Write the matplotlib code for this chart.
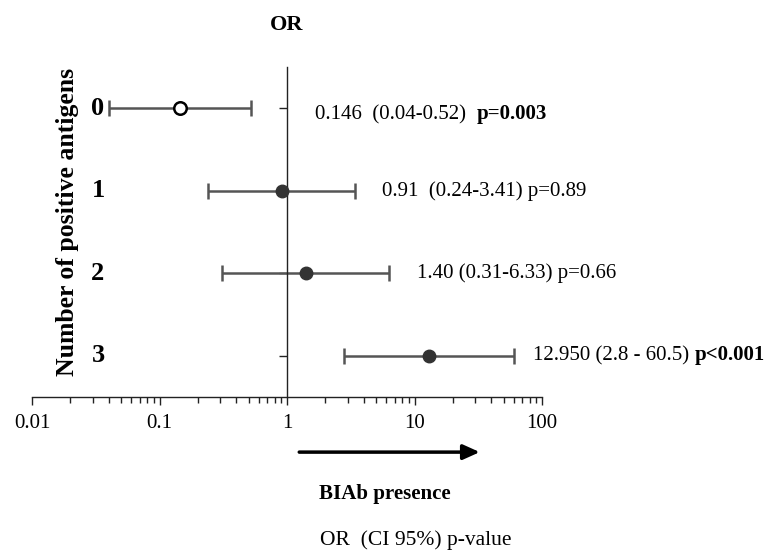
import matplotlib
matplotlib.use("Agg")
import matplotlib.pyplot as plt
from matplotlib.ticker import LogLocator, FixedLocator, NullFormatter

plt.rcParams["font.family"] = ["Liberation Serif", "DejaVu Serif"]

# data
rows = ["0", "1", "2", "3"]
odds = [0.146, 0.91, 1.40, 12.95]
ci_low = [0.04, 0.24, 0.31, 2.8]
ci_high = [0.52, 3.41, 6.33, 60.5]
open_marker = [True, False, False, False]
stat_text = ["0.146  (0.04-0.52)  ", "0.91  (0.24-3.41) p=0.89",
             "1.40 (0.31-6.33) p=0.66", "12.950 (2.8 - 60.5) "]
bold_text = ["p=0.003", "", "", "p<0.001"]
xticks = [0.01, 0.1, 1, 10, 100]
xtick_labels = ["0.01", "0.1", "1", "10", "100"]

# where each annotation starts (axes fraction)
text_x = [0.555, 0.686, 0.755, 0.982]

fig = plt.figure(figsize=(7.71, 5.57), dpi=100)
ax = fig.add_axes([32 / 771, 160 / 557, 510 / 771, 330 / 557])

ax.set_xscale("log")
ax.set_xlim(0.01, 100)
ax.set_ylim(3.5, -0.5)

line_col = "#555555"
for i, (o, lo, hi) in enumerate(zip(odds, ci_low, ci_high)):
    ax.errorbar([o], [i], xerr=[[o - lo], [hi - o]], fmt="none",
                ecolor=line_col, elinewidth=1.8, capsize=6, capthick=1.8, zorder=2)
    if open_marker[i]:
        ax.plot([o], [i], "o", ms=9, mfc="white", mec="black", mew=1.8, zorder=3)
    else:
        ax.plot([o], [i], "o", ms=9, mfc="#333333", mec="#333333", zorder=3)

    t = ax.text(text_x[i], i, stat_text[i], transform=ax.get_yaxis_transform(),
                fontsize=15, va="center", ha="left")
    if i == 0:
        t.set_y(i + 0.08)
    if bold_text[i]:
        ax.annotate(bold_text[i], xy=(1, 0), xycoords=t, va="bottom", ha="left",
                    fontsize=15, fontweight="bold")

# spines: left spine sits at OR = 1
for s in ("top", "right"):
    ax.spines[s].set_visible(False)
ax.spines["left"].set_position(("data", 1))
ax.spines["left"].set_color("#222222")
ax.spines["bottom"].set_color("#222222")
ax.spines["left"].set_linewidth(1.0)
ax.spines["bottom"].set_linewidth(1.0)

ax.yaxis.set_major_locator(FixedLocator(range(len(rows))))
ax.set_yticklabels([])
ax.tick_params(axis="y", direction="out", length=6, width=1, color="#222222")

ax.xaxis.set_major_locator(FixedLocator(xticks))
ax.set_xticklabels(xtick_labels)
ax.xaxis.set_minor_locator(LogLocator(base=10, subs=range(2, 10)))
ax.xaxis.set_minor_formatter(NullFormatter())
ax.tick_params(axis="x", which="major", direction="out", length=6, width=1,
               labelsize=15, pad=6, color="#222222")
ax.tick_params(axis="x", which="minor", direction="out", length=4, width=1, color="#222222")

# row labels
for i, r in enumerate(rows):
    ax.text((98 - 32) / 510, i, r, transform=ax.get_yaxis_transform(),
            fontsize=19, fontweight="bold", ha="center", va="center")

fig.text(68 / 771, 1 - 222 / 557, "Number of positive antigens", rotation=90,
         fontsize=18.5, fontweight="bold", ha="center", va="center")
fig.text(287 / 771, 1 - 25 / 557, "OR", fontsize=16, fontweight="bold",
         ha="center", va="center")

ax.annotate("", xy=(0.878, -0.167), xytext=(0.524, -0.167),
            xycoords="axes fraction", textcoords="axes fraction",
            arrowprops=dict(arrowstyle="-|>,head_length=1.0,head_width=0.45",
                            lw=2.5, color="black", shrinkA=0, shrinkB=0))

fig.text(385 / 771, 1 - 494 / 557, "BIAb presence", fontsize=15, fontweight="bold",
         ha="center", va="center")
fig.text(416 / 771, 1 - 540 / 557, "OR  (CI 95%) p-value", fontsize=15.5,
         ha="center", va="center")

fig.savefig("out.png", dpi=100)
